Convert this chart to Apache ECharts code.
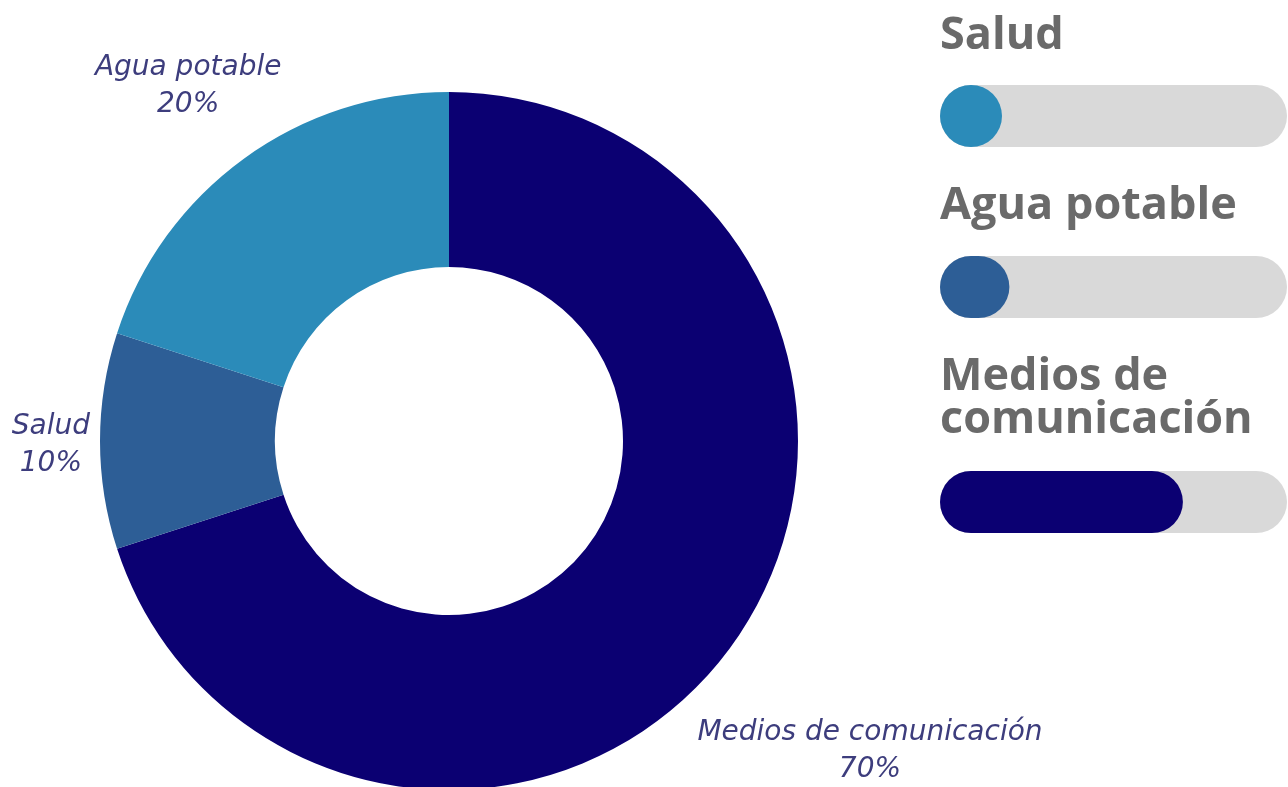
<!DOCTYPE html>
<html>
<head>
<meta charset="utf-8">
<title>Distribución</title>
<script src="https://cdn.jsdelivr.net/npm/echarts@6/dist/echarts.min.js"></script>
<style>
  html, body { margin: 0; padding: 0; background: #ffffff; }
  #chart { width: 1288px; height: 787px; }
</style>
</head>
<body>
<div id="chart"></div>
<script>
// Donut slices, clockwise from 12 o'clock
const categories = ['Medios de comunicación', 'Salud', 'Agua potable'];
const shares = [70, 10, 20];
const sliceColors = ['#0b0072', '#2d5e96', '#2b8bb9'];

// Progress bars on the right (value in %)
const barNames = ['Salud', 'Agua potable', 'Medios de comunicación'];
const barTitles = [['Salud'], ['Agua potable'], ['Medios de', 'comunicación']];
const barValues = [10, 20, 70];
const barColors = ['#2b8bb9', '#2d5e96', '#0b0072'];

const CX = 449, CY = 441, R_OUT = 349, R_IN = 174;
const total = shares.reduce((a, b) => a + b, 0);

const chart = echarts.init(document.getElementById('chart'), null, { renderer: 'canvas' });

// Place each pie label just outside the ring, centred on the slice's bisector
function pieLabelLayout(params) {
  const i = params.dataIndex;
  let before = 0;
  for (let k = 0; k < i; k++) before += shares[k];
  const mid = (before + shares[i] / 2) / total * Math.PI * 2;
  const ux = Math.sin(mid), uy = -Math.cos(mid);
  const w = params.labelRect.width / 2, h = params.labelRect.height / 2;
  const d = R_OUT + 10 + Math.abs(ux) * w + Math.abs(uy) * h;
  return { x: CX + ux * d, y: CY + uy * d + 4, align: 'center', verticalAlign: 'middle' };
}

// Bar rows: track + rounded fill
const barTops = [85, 256, 471];
const barHeight = 62;
const grids = [], xAxes = [], yAxes = [], barSeries = [];
barValues.forEach((v, i) => {
  grids.push({ left: 940, width: 347, top: barTops[i], height: barHeight });
  xAxes.push({ type: 'value', gridIndex: i, min: 0, max: 100, show: false });
  yAxes.push({ type: 'category', gridIndex: i, data: [barNames[i]], show: false });
  barSeries.push({
    type: 'custom',
    name: barNames[i],
    xAxisIndex: i,
    yAxisIndex: i,
    encode: { x: 0, y: 1 },
    data: [[v, 0]],
    silent: true,
    renderItem: function (params, api) {
      const cs = params.coordSys;
      const start = api.coord([0, 0]);
      const end = api.coord([api.value(0), 0]);
      const h = cs.height;
      const fillW = Math.max(end[0] - start[0], h);
      return {
        type: 'group',
        children: [
          { type: 'rect', shape: { x: cs.x, y: cs.y, width: cs.width, height: h, r: h / 2 },
            style: { fill: '#d9d9d9' } },
          { type: 'rect', shape: { x: start[0], y: cs.y, width: fillW, height: h, r: h / 2 },
            style: { fill: barColors[i] } }
        ]
      };
    }
  });
});

// Row headings
const titleLineCenters = [[36], [206], [377, 420]];
const headings = [];
barTitles.forEach((lines, i) => {
  lines.forEach((t, j) => {
    headings.push({
      type: 'text',
      x: 940,
      y: titleLineCenters[i][j],
      style: {
        text: t,
        fill: '#6a6a6a',
        font: 'bold 45px "Open Sans", sans-serif',
        align: 'left',
        verticalAlign: 'middle'
      }
    });
  });
});

chart.setOption({
  animation: false,
  backgroundColor: '#ffffff',
  grid: grids,
  xAxis: xAxes,
  yAxis: yAxes,
  graphic: headings,
  series: [
    {
      type: 'pie',
      center: [CX, CY],
      radius: [R_IN, R_OUT],
      startAngle: 90,
      clockwise: true,
      silent: true,
      data: categories.map((c, i) => ({ name: c, value: shares[i], itemStyle: { color: sliceColors[i] } })),
      label: {
        show: true,
        position: 'outside',
        formatter: '{b}\n{d}%',
        color: '#3d3d7d',
        fontFamily: '"DejaVu Sans", sans-serif',
        fontStyle: 'italic',
        fontSize: 28,
        lineHeight: 37,
        align: 'center',
        overflow: 'none',
        bleedMargin: 0
      },
      labelLine: { show: false, length: 0, length2: 0 },
      labelLayout: pieLabelLayout
    }
  ].concat(barSeries)
});
</script>
</body>
</html>
